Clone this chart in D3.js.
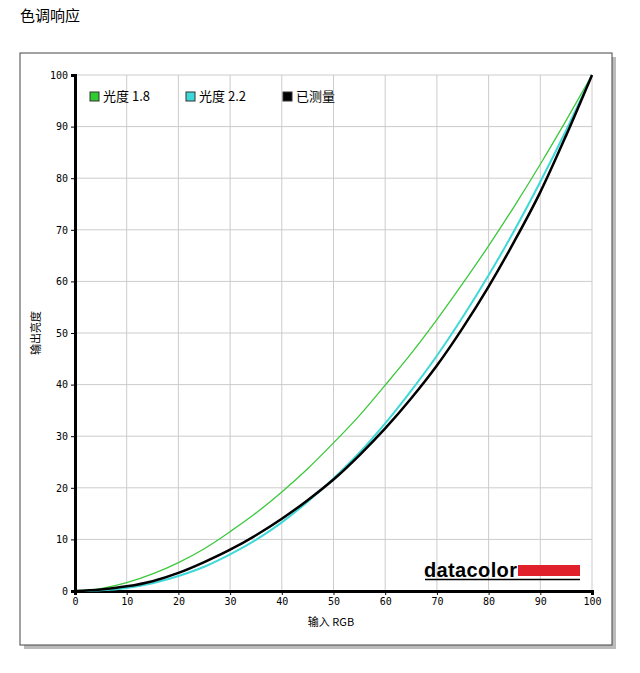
<!DOCTYPE html><html><head><meta charset="utf-8"><script src="https://d3js.org/d3.v7.min.js"></script>
<style>body{margin:0;background:#fff;font-family:"DejaVu Sans",sans-serif}</style></head><body><svg id="c" width="640" height="673"></svg>
<script>
const inputs=[0,5,10,15,20,25,30,35,40,45,50,55,60,65,70,75,80,85,90,95,100];
const gamma18=[0,0.46,1.6,3.3,5.5,8.2,11.5,15.1,19.2,23.7,28.7,34,39.9,46,52.6,59.6,66.9,74.6,82.7,91.2,100];
const gamma22=[0,0.14,0.6,1.5,2.9,4.7,7.1,9.9,13.3,17.3,21.8,26.8,32.5,38.8,45.6,53.1,61.2,69.9,79.3,89.3,100];
const measured=[0,0.3,0.9,1.9,3.5,5.6,8,10.8,14,17.6,21.6,26.3,31.5,37.3,43.7,51,59,67.8,77.3,88.3,100];
const ticks=[0,10,20,30,40,50,60,70,80,90,100];
const legend=[["光度 1.8","#2ecc2e"],["光度 2.2","#3fd8d8"],["已测量","#000"]];
const svg=d3.select("#c");
svg.append("text").attr("x",20).attr("y",21).attr("font-size",15).attr("font-family","Noto Sans CJK SC").text("色调响应");
svg.append("rect").attr("x",24).attr("y",57).attr("width",592).attr("height",592).attr("fill","#bbb");
svg.append("rect").attr("x",20).attr("y",53).attr("width",592).attr("height",592).attr("fill","#fff").attr("stroke","#444");
const x=d3.scaleLinear().domain([0,100]).range([75,592]);
const y=d3.scaleLinear().domain([0,100]).range([591,75]);
const g=svg.append("g");
ticks.forEach(t=>{
 g.append("line").attr("x1",x(t)).attr("x2",x(t)).attr("y1",y(0)).attr("y2",y(100)).attr("stroke","#ccc");
 g.append("line").attr("y1",y(t)).attr("y2",y(t)).attr("x1",x(0)).attr("x2",x(100)).attr("stroke","#ccc");
});
svg.append("g").attr("transform","translate(0,591)").call(d3.axisBottom(x).tickValues(ticks).tickSize(4)).call(s=>{s.select(".domain").attr("stroke-width",3);s.selectAll("text").attr("font-size",10).attr("font-family","DejaVu Sans Mono")});
svg.append("g").attr("transform","translate(75,0)").call(d3.axisLeft(y).tickValues(ticks).tickSize(4)).call(s=>{s.select(".domain").attr("stroke-width",3);s.selectAll("text").attr("font-size",10).attr("font-family","DejaVu Sans Mono")});
const line=v=>d3.line().x((d,i)=>x(inputs[i])).y(d=>y(d)).curve(d3.curveMonotoneX)(v);
svg.append("path").attr("d",line(gamma18)).attr("fill","none").attr("stroke","#3cc83c").attr("stroke-width",1.3);
svg.append("path").attr("d",line(gamma22)).attr("fill","none").attr("stroke","#3fd8d8").attr("stroke-width",2);
svg.append("path").attr("d",line(measured)).attr("fill","none").attr("stroke","#000").attr("stroke-width",2.5);
const lx=[90,186,283];
legend.forEach((l,i)=>{
 svg.append("rect").attr("x",lx[i]).attr("y",92).attr("width",9).attr("height",9).attr("fill",l[1]).attr("stroke","#333");
 svg.append("text").attr("x",lx[i]+13).attr("y",101).attr("font-size",13).attr("font-family","Noto Sans CJK SC").text(l[0]);
});
svg.append("text").attr("x",331).attr("y",626).attr("font-size",11).attr("text-anchor","middle").attr("font-family","Noto Sans CJK SC").text("输入 RGB");
svg.append("text").attr("transform","translate(40,333) rotate(-90)").attr("font-size",11).attr("text-anchor","middle").attr("font-family","Noto Sans CJK SC").text("输出亮度");
svg.append("text").attr("x",424).attr("y",577).attr("font-size",20).attr("font-weight","bold").attr("font-family","Liberation Sans").attr("textLength",93).text("datacolor");
svg.append("rect").attr("x",518).attr("y",565).attr("width",62).attr("height",11).attr("fill","#e0202a");
svg.append("line").attr("x1",425).attr("x2",580).attr("y1",579.5).attr("y2",579.5).attr("stroke","#000").attr("stroke-width",1.5);
</script></body></html>
